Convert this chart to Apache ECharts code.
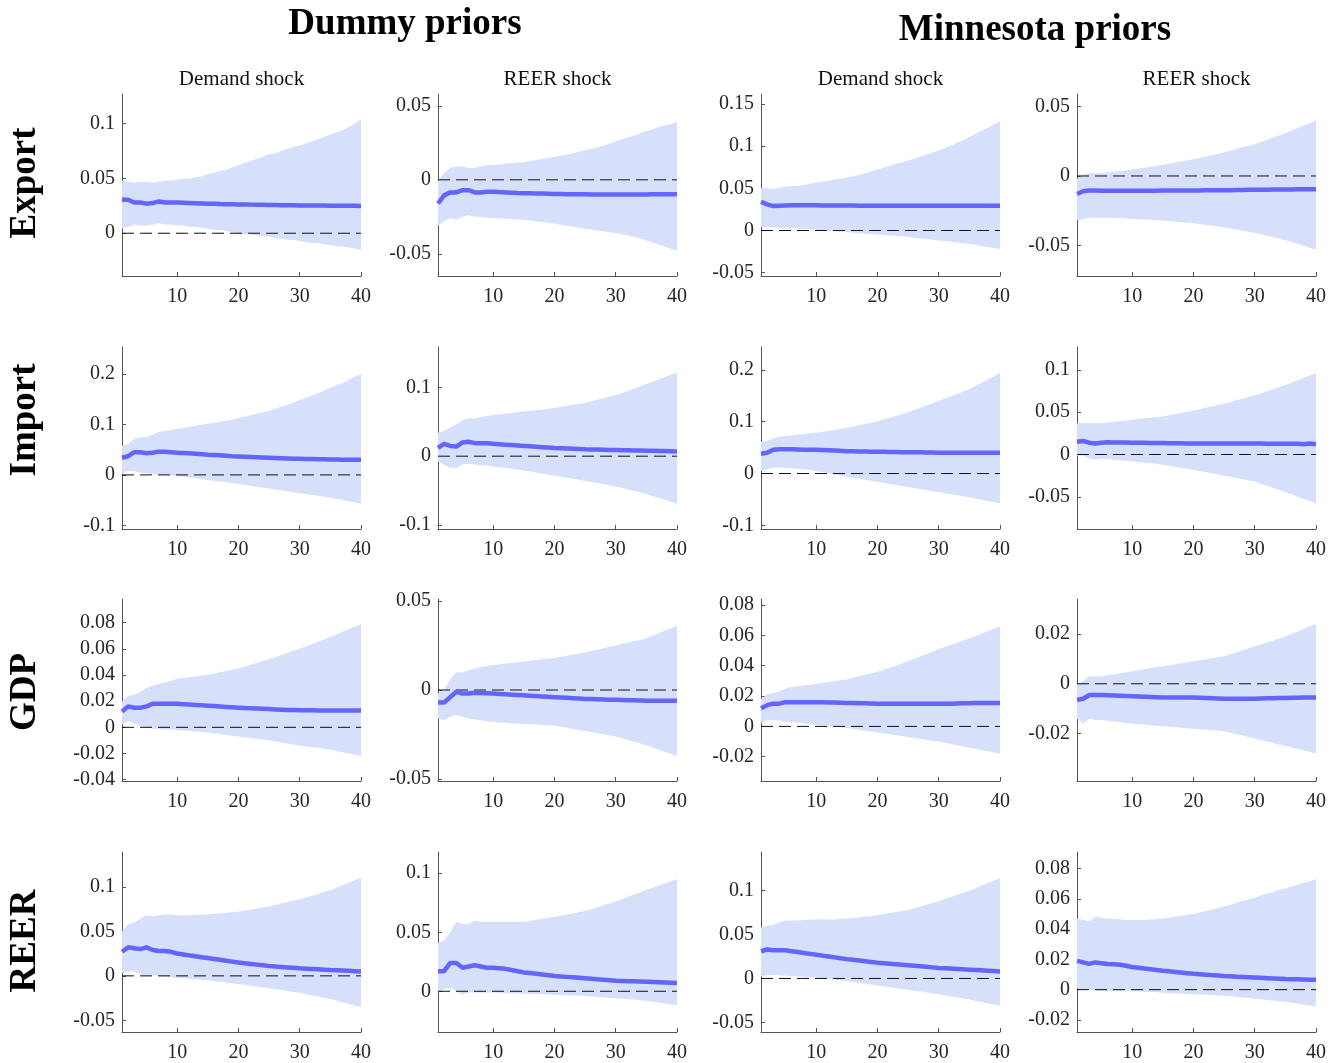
<!DOCTYPE html>
<html>
<head>
<meta charset="utf-8">
<script src="https://cdn.jsdelivr.net/npm/echarts@6/dist/echarts.min.js"></script>
<style>
  html, body { margin: 0; padding: 0; background: #ffffff; }
  #chart { width: 1339px; height: 1063px; }
</style>
</head>
<body>
<div id="chart"></div>
<script>
// Forecast horizons (quarters)
const horizons = [1,2,3,4,5,6,7,8,9,10,11,12,13,14,15,16,17,18,19,20,21,22,23,24,25,26,27,28,29,30,31,32,33,34,35,36,37,38,39,40];
const horizonTicks = [10, 20, 30, 40];

// ---- Export ----
const exportDummyDemandLo = [0.004,0.006,0.008,0.007,0.007,0.008,0.009,0.008,0.008,0.007,0.007,0.006,0.006,0.005,0.004,0.003,0.003,0.002,0.001,0.000,-0.001,-0.001,-0.002,-0.003,-0.003,-0.004,-0.005,-0.006,-0.006,-0.007,-0.008,-0.009,-0.009,-0.010,-0.011,-0.012,-0.012,-0.013,-0.014,-0.015];
const exportDummyDemandMid = [0.0305,0.0305,0.028,0.028,0.027,0.0275,0.029,0.028,0.028,0.028,0.0278,0.0276,0.0274,0.0272,0.027,0.0268,0.0266,0.0265,0.0264,0.0263,0.0262,0.0261,0.026,0.0259,0.0258,0.0257,0.0256,0.0255,0.0255,0.0254,0.0253,0.0253,0.0252,0.0252,0.0251,0.0251,0.025,0.025,0.025,0.0249];
const exportDummyDemandHi = [0.048,0.047,0.046,0.047,0.047,0.046,0.047,0.048,0.048,0.049,0.050,0.050,0.051,0.052,0.054,0.055,0.057,0.058,0.060,0.062,0.064,0.066,0.068,0.070,0.072,0.073,0.075,0.077,0.079,0.080,0.082,0.084,0.086,0.088,0.090,0.092,0.094,0.097,0.100,0.104];
const exportDummyDemandTicks = [0, 0.05, 0.1];

const exportDummyReerLo = [-0.031,-0.028,-0.026,-0.027,-0.025,-0.024,-0.025,-0.025,-0.0255,-0.026,-0.026,-0.0263,-0.0265,-0.0268,-0.027,-0.0275,-0.028,-0.0285,-0.029,-0.0297,-0.0303,-0.031,-0.0316,-0.0323,-0.033,-0.0336,-0.0342,-0.0348,-0.0354,-0.036,-0.0368,-0.0377,-0.0386,-0.0396,-0.041,-0.0423,-0.0437,-0.045,-0.0465,-0.048];
const exportDummyReerMid = [-0.016,-0.0105,-0.0085,-0.0085,-0.007,-0.007,-0.0085,-0.0085,-0.008,-0.008,-0.0083,-0.0085,-0.0087,-0.0089,-0.009,-0.0091,-0.0092,-0.0093,-0.0094,-0.0095,-0.0096,-0.0097,-0.0097,-0.0098,-0.0098,-0.0099,-0.0099,-0.01,-0.01,-0.01,-0.01,-0.0099,-0.01,-0.0099,-0.0099,-0.0098,-0.0098,-0.0098,-0.0098,-0.0098];
const exportDummyReerHi = [-0.001,0.005,0.008,0.009,0.009,0.008,0.008,0.009,0.010,0.010,0.0105,0.011,0.0112,0.0115,0.012,0.0127,0.0134,0.014,0.0147,0.0155,0.0163,0.0171,0.018,0.019,0.020,0.021,0.022,0.023,0.0245,0.026,0.0273,0.0287,0.030,0.0315,0.033,0.0342,0.0355,0.0367,0.0378,0.039];
const exportDummyReerTicks = [-0.05, 0, 0.05];

const exportMinnDemandLo = [0.004,0.004,0.004,0.0035,0.003,0.0027,0.0023,0.002,0.0015,0.001,0.0004,-0.0002,-0.0008,-0.0014,-0.002,-0.0026,-0.0032,-0.0038,-0.0043,-0.0048,-0.0054,-0.006,-0.0066,-0.0072,-0.0078,-0.0086,-0.0094,-0.0102,-0.011,-0.0118,-0.0126,-0.0134,-0.0142,-0.015,-0.016,-0.017,-0.0183,-0.0196,-0.0208,-0.022];
const exportMinnDemandMid = [0.034,0.031,0.029,0.0295,0.0298,0.030,0.030,0.030,0.030,0.030,0.0298,0.0298,0.0297,0.0297,0.0296,0.0296,0.0295,0.0295,0.0295,0.0295,0.0294,0.0294,0.0294,0.0294,0.0294,0.0294,0.0294,0.0294,0.0294,0.0294,0.0294,0.0294,0.0294,0.0295,0.0294,0.0294,0.0293,0.0293,0.0294,0.0295];
const exportMinnDemandHi = [0.051,0.050,0.049,0.051,0.052,0.0525,0.053,0.054,0.0555,0.057,0.058,0.059,0.0605,0.0617,0.063,0.0645,0.066,0.068,0.070,0.0725,0.0745,0.0767,0.079,0.081,0.083,0.0853,0.0877,0.090,0.0925,0.095,0.098,0.101,0.104,0.1075,0.111,0.1147,0.1185,0.122,0.126,0.130];
const exportMinnDemandTicks = [-0.05, 0, 0.05, 0.1, 0.15];

const exportMinnReerLo = [-0.032,-0.031,-0.030,-0.030,-0.030,-0.030,-0.030,-0.0303,-0.0306,-0.031,-0.0312,-0.0314,-0.0316,-0.0318,-0.032,-0.0324,-0.0328,-0.0332,-0.0336,-0.034,-0.0346,-0.0352,-0.0358,-0.0364,-0.037,-0.0378,-0.0386,-0.0394,-0.0402,-0.041,-0.042,-0.043,-0.044,-0.045,-0.046,-0.0474,-0.0488,-0.0502,-0.0516,-0.053];
const exportMinnReerMid = [-0.013,-0.011,-0.0105,-0.0105,-0.0106,-0.0106,-0.0106,-0.0106,-0.0106,-0.0106,-0.0106,-0.0106,-0.0106,-0.0106,-0.0105,-0.0105,-0.0105,-0.0105,-0.0105,-0.0104,-0.0104,-0.0103,-0.0103,-0.0102,-0.0102,-0.0102,-0.0101,-0.0101,-0.0100,-0.0100,-0.0099,-0.0099,-0.0098,-0.0098,-0.0097,-0.0097,-0.0096,-0.0096,-0.0095,-0.0095];
const exportMinnReerHi = [-0.002,0.001,0.002,0.002,0.002,0.0025,0.003,0.0035,0.004,0.0048,0.0053,0.006,0.0066,0.0073,0.008,0.0088,0.0096,0.0104,0.0112,0.012,0.013,0.014,0.015,0.016,0.017,0.0182,0.0194,0.0206,0.0218,0.023,0.0245,0.026,0.0276,0.0292,0.031,0.0328,0.0346,0.0364,0.0382,0.040];
const exportMinnReerTicks = [-0.05, 0, 0.05];

// ---- Import ----
const importDummyDemandLo = [0.002,0.008,0.007,0.005,0.003,0.002,0.001,0.000,-0.001,-0.002,-0.0035,-0.005,-0.0065,-0.008,-0.010,-0.0115,-0.013,-0.0145,-0.016,-0.018,-0.020,-0.0218,-0.0235,-0.0253,-0.027,-0.0288,-0.0306,-0.0324,-0.0342,-0.036,-0.0378,-0.0396,-0.0414,-0.0432,-0.045,-0.0474,-0.0498,-0.0522,-0.0546,-0.057];
const importDummyDemandMid = [0.034,0.037,0.045,0.045,0.043,0.044,0.046,0.046,0.045,0.044,0.0435,0.043,0.042,0.041,0.040,0.0395,0.039,0.038,0.037,0.0365,0.036,0.0355,0.035,0.0345,0.034,0.0335,0.033,0.0325,0.032,0.032,0.0315,0.0315,0.031,0.031,0.0305,0.0305,0.030,0.030,0.030,0.030];
const importDummyDemandHi = [0.058,0.060,0.072,0.074,0.075,0.080,0.085,0.087,0.089,0.091,0.093,0.095,0.097,0.099,0.101,0.103,0.105,0.107,0.109,0.112,0.115,0.118,0.121,0.124,0.127,0.131,0.135,0.139,0.143,0.148,0.152,0.157,0.162,0.167,0.172,0.177,0.182,0.188,0.194,0.200];
const importDummyDemandTicks = [-0.1, 0, 0.1, 0.2];

const importDummyReerLo = [-0.008,-0.012,-0.017,-0.017,-0.012,-0.011,-0.012,-0.013,-0.014,-0.015,-0.016,-0.017,-0.0185,-0.0197,-0.021,-0.0224,-0.0238,-0.0252,-0.0266,-0.028,-0.0296,-0.0312,-0.0328,-0.0344,-0.036,-0.0376,-0.0392,-0.0408,-0.0424,-0.044,-0.0462,-0.0484,-0.0506,-0.0528,-0.055,-0.0578,-0.0606,-0.0634,-0.0662,-0.069];
const importDummyReerMid = [0.012,0.018,0.015,0.014,0.020,0.021,0.019,0.019,0.019,0.018,0.0174,0.0168,0.0162,0.0156,0.015,0.0144,0.0138,0.0132,0.0126,0.012,0.0116,0.0112,0.0108,0.0104,0.010,0.0098,0.0096,0.0094,0.0092,0.009,0.0088,0.0086,0.0084,0.0082,0.008,0.0078,0.0076,0.0074,0.0072,0.007];
const importDummyReerHi = [0.034,0.037,0.042,0.046,0.052,0.055,0.055,0.057,0.0585,0.060,0.061,0.062,0.063,0.064,0.065,0.066,0.067,0.068,0.069,0.070,0.0716,0.0732,0.0748,0.0764,0.078,0.080,0.0822,0.0844,0.0866,0.089,0.092,0.095,0.0985,0.1017,0.105,0.1084,0.1118,0.1152,0.1186,0.122];
const importDummyReerTicks = [-0.1, 0, 0.1];

const importMinnDemandLo = [0.005,0.008,0.011,0.012,0.011,0.010,0.009,0.008,0.0065,0.005,0.003,0.0005,-0.0015,-0.004,-0.006,-0.008,-0.010,-0.012,-0.014,-0.016,-0.018,-0.020,-0.022,-0.024,-0.026,-0.028,-0.030,-0.032,-0.034,-0.036,-0.038,-0.040,-0.042,-0.044,-0.046,-0.0484,-0.0508,-0.0532,-0.0556,-0.058];
const importMinnDemandMid = [0.038,0.040,0.046,0.047,0.047,0.047,0.0465,0.046,0.046,0.046,0.0455,0.045,0.0445,0.0437,0.043,0.0428,0.0425,0.0423,0.042,0.042,0.0418,0.0416,0.0414,0.0412,0.041,0.041,0.0408,0.0406,0.0404,0.040,0.040,0.040,0.040,0.040,0.040,0.040,0.040,0.040,0.040,0.040];
const importMinnDemandHi = [0.062,0.062,0.068,0.071,0.073,0.074,0.075,0.076,0.0775,0.079,0.0805,0.082,0.084,0.086,0.088,0.0905,0.093,0.0955,0.098,0.101,0.1043,0.1077,0.111,0.1145,0.118,0.1224,0.1268,0.1312,0.1356,0.140,0.1446,0.1492,0.1538,0.1584,0.163,0.169,0.175,0.181,0.187,0.194];
const importMinnDemandTicks = [-0.1, 0, 0.1, 0.2];

const importMinnReerLo = [-0.002,-0.001,-0.005,-0.006,-0.005,-0.0056,-0.0062,-0.0068,-0.0074,-0.008,-0.0088,-0.0096,-0.0104,-0.0112,-0.012,-0.0132,-0.0144,-0.0156,-0.0168,-0.018,-0.0194,-0.0208,-0.0222,-0.0236,-0.025,-0.0264,-0.0278,-0.0292,-0.0306,-0.032,-0.0345,-0.037,-0.0395,-0.042,-0.0445,-0.047,-0.050,-0.0525,-0.055,-0.058];
const importMinnReerMid = [0.015,0.016,0.014,0.013,0.014,0.0145,0.0143,0.0142,0.0141,0.014,0.0139,0.0138,0.0137,0.0136,0.0135,0.0134,0.0133,0.0132,0.0131,0.013,0.013,0.013,0.013,0.013,0.013,0.013,0.013,0.013,0.013,0.013,0.0129,0.0128,0.0128,0.0127,0.0127,0.0126,0.0126,0.012,0.013,0.012];
const importMinnReerHi = [0.037,0.037,0.037,0.037,0.037,0.0378,0.0386,0.0394,0.0402,0.041,0.0418,0.0426,0.0434,0.0442,0.045,0.0464,0.0478,0.0492,0.0506,0.052,0.0536,0.0552,0.0568,0.0584,0.060,0.062,0.064,0.066,0.068,0.070,0.0724,0.0748,0.0772,0.0796,0.082,0.0848,0.0876,0.0904,0.0932,0.096];
const importMinnReerTicks = [-0.05, 0, 0.05, 0.1];

// ---- GDP ----
const gdpDummyDemandLo = [0.002,0.005,0.003,0.001,0.000,-0.001,-0.0012,-0.0015,-0.0017,-0.002,-0.0024,-0.0028,-0.0032,-0.0036,-0.004,-0.0046,-0.0052,-0.0058,-0.0064,-0.007,-0.0076,-0.0082,-0.0088,-0.0094,-0.010,-0.0108,-0.0116,-0.0124,-0.0132,-0.014,-0.0146,-0.0152,-0.0158,-0.0164,-0.017,-0.018,-0.019,-0.020,-0.021,-0.022];
const gdpDummyDemandMid = [0.012,0.016,0.015,0.015,0.016,0.018,0.018,0.018,0.018,0.018,0.0177,0.0174,0.0171,0.0168,0.0165,0.0162,0.0159,0.0156,0.0153,0.015,0.0147,0.0145,0.0143,0.0141,0.0139,0.0137,0.0135,0.0133,0.0132,0.0131,0.013,0.013,0.0129,0.0129,0.0129,0.0129,0.0129,0.0129,0.0128,0.0128];
const gdpDummyDemandHi = [0.020,0.024,0.025,0.027,0.030,0.032,0.033,0.034,0.0355,0.037,0.0376,0.0382,0.0388,0.0394,0.040,0.041,0.042,0.043,0.044,0.045,0.0464,0.0478,0.0492,0.0506,0.052,0.0536,0.0552,0.0568,0.0584,0.060,0.0618,0.0636,0.0654,0.0672,0.069,0.071,0.073,0.075,0.077,0.079];
const gdpDummyDemandTicks = [-0.04, -0.02, 0, 0.02, 0.04, 0.06, 0.08];

const gdpDummyReerLo = [-0.016,-0.017,-0.015,-0.014,-0.015,-0.016,-0.0165,-0.017,-0.0175,-0.018,-0.0182,-0.0184,-0.0186,-0.0188,-0.019,-0.0192,-0.0194,-0.0196,-0.0198,-0.020,-0.0206,-0.0212,-0.0218,-0.0224,-0.023,-0.0236,-0.0242,-0.0248,-0.0254,-0.026,-0.027,-0.028,-0.029,-0.030,-0.031,-0.0322,-0.0334,-0.0346,-0.0358,-0.037];
const gdpDummyReerMid = [-0.007,-0.007,-0.004,-0.001,-0.002,-0.002,-0.0015,-0.0017,-0.0018,-0.002,-0.0022,-0.0024,-0.0026,-0.0028,-0.003,-0.0032,-0.0034,-0.0036,-0.0038,-0.004,-0.0042,-0.0044,-0.0046,-0.0048,-0.005,-0.0051,-0.0052,-0.0053,-0.0054,-0.0055,-0.0056,-0.0057,-0.0058,-0.0059,-0.006,-0.006,-0.006,-0.006,-0.006,-0.006];
const gdpDummyReerHi = [-0.002,0.000,0.006,0.010,0.010,0.011,0.012,0.013,0.0135,0.014,0.0144,0.0148,0.0152,0.0156,0.016,0.0164,0.0168,0.0172,0.0176,0.018,0.0186,0.0192,0.0198,0.0204,0.021,0.0218,0.0226,0.0234,0.0242,0.025,0.0258,0.0266,0.0274,0.0282,0.029,0.0304,0.0318,0.0332,0.0346,0.036];
const gdpDummyReerTicks = [-0.05, 0, 0.05];

const gdpMinnDemandLo = [0.002,0.004,0.004,0.004,0.003,0.003,0.0025,0.002,0.0015,0.001,0.0006,0.0002,-0.0002,-0.0006,-0.001,-0.0016,-0.0022,-0.0028,-0.0034,-0.004,-0.0046,-0.0052,-0.0058,-0.0064,-0.007,-0.0076,-0.0082,-0.0088,-0.0094,-0.010,-0.0108,-0.0116,-0.0124,-0.0132,-0.014,-0.0148,-0.0156,-0.0164,-0.0172,-0.018];
const gdpMinnDemandMid = [0.012,0.014,0.015,0.015,0.016,0.016,0.016,0.016,0.016,0.016,0.0159,0.0158,0.0157,0.0156,0.0155,0.0154,0.0153,0.0152,0.0151,0.015,0.015,0.015,0.015,0.015,0.015,0.015,0.015,0.015,0.015,0.015,0.015,0.015,0.0151,0.0152,0.0153,0.0154,0.0155,0.0155,0.0155,0.0155];
const gdpMinnDemandHi = [0.018,0.021,0.022,0.023,0.025,0.026,0.0265,0.027,0.0275,0.028,0.0286,0.0292,0.0298,0.0304,0.031,0.032,0.033,0.034,0.035,0.036,0.0373,0.0386,0.040,0.0415,0.043,0.0446,0.0462,0.0478,0.0494,0.051,0.0524,0.0538,0.0552,0.0566,0.058,0.0596,0.0612,0.0628,0.0644,0.066];
const gdpMinnDemandTicks = [-0.02, 0, 0.02, 0.04, 0.06, 0.08];

const gdpMinnReerLo = [-0.014,-0.016,-0.014,-0.0145,-0.0145,-0.0148,-0.0151,-0.0154,-0.0157,-0.016,-0.0162,-0.0164,-0.0166,-0.0168,-0.017,-0.0172,-0.0174,-0.0176,-0.0178,-0.018,-0.0182,-0.0184,-0.0186,-0.0188,-0.019,-0.0196,-0.0202,-0.0208,-0.0214,-0.022,-0.0226,-0.0232,-0.0238,-0.0244,-0.025,-0.0256,-0.0262,-0.0268,-0.0274,-0.028];
const gdpMinnReerMid = [-0.0065,-0.006,-0.0045,-0.0045,-0.0045,-0.0046,-0.0047,-0.0048,-0.0049,-0.005,-0.0051,-0.0052,-0.0053,-0.0054,-0.0055,-0.0055,-0.0055,-0.0055,-0.0055,-0.0055,-0.0056,-0.0057,-0.0058,-0.0059,-0.006,-0.006,-0.006,-0.006,-0.006,-0.006,-0.0059,-0.0058,-0.0058,-0.0057,-0.0057,-0.0056,-0.0056,-0.0055,-0.0055,-0.0055];
const gdpMinnReerHi = [-0.0003,0.001,0.003,0.003,0.003,0.0034,0.0038,0.0042,0.0046,0.005,0.0054,0.0058,0.0062,0.0066,0.007,0.0074,0.0078,0.0082,0.0086,0.009,0.0094,0.0098,0.0102,0.0106,0.011,0.0118,0.0126,0.0134,0.0142,0.015,0.0158,0.0166,0.0174,0.0182,0.019,0.020,0.021,0.022,0.023,0.024];
const gdpMinnReerTicks = [-0.02, 0, 0.02];

// ---- REER ----
const reerDummyDemandLo = [0.003,0.005,0.005,0.002,-0.001,0.001,0.000,-0.001,-0.0015,-0.002,-0.0026,-0.0032,-0.0038,-0.0044,-0.005,-0.0058,-0.0066,-0.0074,-0.0082,-0.009,-0.010,-0.011,-0.012,-0.013,-0.014,-0.015,-0.016,-0.017,-0.018,-0.019,-0.0204,-0.0218,-0.0232,-0.0246,-0.026,-0.0278,-0.0296,-0.0314,-0.0332,-0.035];
const reerDummyDemandMid = [0.027,0.032,0.031,0.030,0.032,0.029,0.028,0.028,0.027,0.025,0.024,0.023,0.022,0.021,0.020,0.019,0.018,0.017,0.016,0.015,0.0142,0.0134,0.0126,0.0118,0.011,0.0105,0.010,0.0095,0.009,0.0085,0.0081,0.0077,0.0073,0.0069,0.0065,0.0062,0.0059,0.0056,0.0053,0.005];
const reerDummyDemandHi = [0.050,0.058,0.060,0.064,0.068,0.067,0.068,0.069,0.0685,0.068,0.068,0.068,0.0685,0.0688,0.069,0.0696,0.0702,0.0708,0.0714,0.072,0.0732,0.0744,0.0756,0.0768,0.078,0.0796,0.0812,0.0828,0.0844,0.086,0.088,0.090,0.092,0.094,0.096,0.0988,0.1016,0.1044,0.1072,0.110];
const reerDummyDemandTicks = [-0.05, 0, 0.05, 0.1];

const reerDummyReerLo = [-0.001,0.002,0.003,0.000,-0.003,-0.001,-0.001,-0.001,-0.001,-0.001,-0.0012,-0.0014,-0.0016,-0.0018,-0.002,-0.0022,-0.0024,-0.0026,-0.0028,-0.003,-0.0032,-0.0034,-0.0036,-0.0038,-0.004,-0.0044,-0.0048,-0.0052,-0.0056,-0.006,-0.0064,-0.0068,-0.0072,-0.0076,-0.008,-0.0088,-0.0096,-0.0104,-0.0112,-0.012];
const reerDummyReerMid = [0.017,0.017,0.024,0.024,0.020,0.021,0.022,0.021,0.020,0.020,0.0195,0.019,0.018,0.017,0.016,0.0154,0.0148,0.0142,0.0136,0.013,0.0126,0.0122,0.0118,0.0114,0.011,0.0106,0.0102,0.0098,0.0094,0.009,0.0088,0.0086,0.0084,0.0082,0.008,0.0078,0.0076,0.0074,0.0072,0.007];
const reerDummyReerHi = [0.041,0.043,0.050,0.059,0.057,0.057,0.060,0.059,0.059,0.059,0.059,0.059,0.059,0.059,0.059,0.0598,0.0606,0.0614,0.0622,0.063,0.064,0.065,0.066,0.067,0.068,0.0696,0.0712,0.0728,0.0744,0.076,0.078,0.080,0.082,0.084,0.086,0.0878,0.0896,0.0914,0.0932,0.095];
const reerDummyReerTicks = [0, 0.05, 0.1];

const reerMinnDemandLo = [0.002,0.004,0.004,0.0035,0.003,0.0026,0.0022,0.0018,0.0014,0.001,0.0002,-0.0006,-0.0014,-0.0022,-0.003,-0.004,-0.005,-0.006,-0.007,-0.008,-0.009,-0.010,-0.011,-0.012,-0.013,-0.014,-0.015,-0.016,-0.017,-0.018,-0.0192,-0.0204,-0.0216,-0.0228,-0.024,-0.0254,-0.0268,-0.0282,-0.0296,-0.031];
const reerMinnDemandMid = [0.031,0.033,0.032,0.032,0.032,0.031,0.030,0.029,0.028,0.027,0.026,0.025,0.024,0.023,0.022,0.0212,0.0204,0.0196,0.0188,0.018,0.0174,0.0168,0.0162,0.0156,0.015,0.0144,0.0138,0.0132,0.0126,0.012,0.0116,0.0112,0.0108,0.0104,0.010,0.0096,0.0092,0.0088,0.0084,0.008];
const reerMinnDemandHi = [0.058,0.060,0.061,0.064,0.066,0.066,0.066,0.0665,0.0668,0.067,0.067,0.067,0.0672,0.0676,0.068,0.0688,0.0696,0.0704,0.0712,0.072,0.0732,0.0744,0.0756,0.0768,0.078,0.080,0.082,0.084,0.086,0.088,0.0904,0.0928,0.0952,0.0976,0.100,0.1028,0.1056,0.1084,0.1112,0.114];
const reerMinnDemandTicks = [-0.05, 0, 0.05, 0.1];

const reerMinnReerLo = [0.001,0.000,0.000,-0.0005,-0.001,-0.001,-0.001,-0.001,-0.001,-0.001,-0.0012,-0.0014,-0.0016,-0.0018,-0.002,-0.0022,-0.0024,-0.0026,-0.0028,-0.003,-0.0032,-0.0034,-0.0036,-0.0038,-0.004,-0.0044,-0.0048,-0.0052,-0.0056,-0.006,-0.0064,-0.0068,-0.0072,-0.0076,-0.008,-0.0086,-0.0092,-0.0098,-0.0104,-0.011];
const reerMinnReerMid = [0.019,0.018,0.017,0.018,0.0175,0.017,0.0168,0.0165,0.0158,0.015,0.0145,0.014,0.0135,0.013,0.0125,0.0121,0.0117,0.0113,0.0109,0.0105,0.0102,0.0099,0.0096,0.0093,0.009,0.0088,0.0086,0.0084,0.0082,0.008,0.0078,0.0076,0.0074,0.0072,0.007,0.0069,0.0068,0.0067,0.0066,0.0065];
const reerMinnReerHi = [0.047,0.046,0.045,0.048,0.0475,0.047,0.0467,0.0465,0.046,0.046,0.046,0.046,0.0463,0.0466,0.047,0.0476,0.0482,0.0488,0.0494,0.050,0.051,0.052,0.053,0.054,0.055,0.0562,0.0574,0.0586,0.0598,0.061,0.0622,0.0634,0.0646,0.0658,0.067,0.0682,0.0694,0.0706,0.0718,0.073];
const reerMinnReerTicks = [-0.02, 0, 0.02, 0.04, 0.06, 0.08];

// Text
const priorTitles = ['Dummy priors', 'Minnesota priors'];
const shockTitles = ['Demand shock', 'REER shock', 'Demand shock', 'REER shock'];
const variableNames = ['Export', 'Import', 'GDP', 'REER'];

// Panels row by row: y-axis limits and band/median arrays
const panels = [
  { lo: exportDummyDemandLo, mid: exportDummyDemandMid, hi: exportDummyDemandHi, yMin: -0.039, yMax: 0.127, ticks: exportDummyDemandTicks },
  { lo: exportDummyReerLo,   mid: exportDummyReerMid,   hi: exportDummyReerHi,   yMin: -0.065, yMax: 0.058, ticks: exportDummyReerTicks },
  { lo: exportMinnDemandLo,  mid: exportMinnDemandMid,  hi: exportMinnDemandHi,  yMin: -0.054, yMax: 0.162, ticks: exportMinnDemandTicks },
  { lo: exportMinnReerLo,    mid: exportMinnReerMid,    hi: exportMinnReerHi,    yMin: -0.072, yMax: 0.059, ticks: exportMinnReerTicks },
  { lo: importDummyDemandLo, mid: importDummyDemandMid, hi: importDummyDemandHi, yMin: -0.107, yMax: 0.253, ticks: importDummyDemandTicks },
  { lo: importDummyReerLo,   mid: importDummyReerMid,   hi: importDummyReerHi,   yMin: -0.106, yMax: 0.159, ticks: importDummyReerTicks },
  { lo: importMinnDemandLo,  mid: importMinnDemandMid,  hi: importMinnDemandHi,  yMin: -0.107, yMax: 0.244, ticks: importMinnDemandTicks },
  { lo: importMinnReerLo,    mid: importMinnReerMid,    hi: importMinnReerHi,    yMin: -0.088, yMax: 0.127, ticks: importMinnReerTicks },
  { lo: gdpDummyDemandLo,    mid: gdpDummyDemandMid,    hi: gdpDummyDemandHi,    yMin: -0.041, yMax: 0.098, ticks: gdpDummyDemandTicks },
  { lo: gdpDummyReerLo,      mid: gdpDummyReerMid,      hi: gdpDummyReerHi,      yMin: -0.051, yMax: 0.051, ticks: gdpDummyReerTicks },
  { lo: gdpMinnDemandLo,     mid: gdpMinnDemandMid,     hi: gdpMinnDemandHi,     yMin: -0.036, yMax: 0.084, ticks: gdpMinnDemandTicks },
  { lo: gdpMinnReerLo,       mid: gdpMinnReerMid,       hi: gdpMinnReerHi,       yMin: -0.039, yMax: 0.034, ticks: gdpMinnReerTicks },
  { lo: reerDummyDemandLo,   mid: reerDummyDemandMid,   hi: reerDummyDemandHi,   yMin: -0.063, yMax: 0.139, ticks: reerDummyDemandTicks },
  { lo: reerDummyReerLo,     mid: reerDummyReerMid,     hi: reerDummyReerHi,     yMin: -0.0345, yMax: 0.118, ticks: reerDummyReerTicks },
  { lo: reerMinnDemandLo,    mid: reerMinnDemandMid,    hi: reerMinnDemandHi,    yMin: -0.061, yMax: 0.144, ticks: reerMinnDemandTicks },
  { lo: reerMinnReerLo,      mid: reerMinnReerMid,      hi: reerMinnReerHi,      yMin: -0.028, yMax: 0.091, ticks: reerMinnReerTicks }
];

// Layout of the 4x4 grid of axes
const colLeft = [122, 438, 761, 1077];
const colWidth = 239;
const rowTop = [94, 347, 599, 852];
const rowHeight = 182;

const serif = '"Liberation Serif", "Times New Roman", serif';
const axisColor = '#555555';
const tickTextColor = '#262626';
const bandColor = '#d6e0fb';
const lineColor = '#6464ff';

const fmt = v => String(+(+v).toFixed(4));

const grids = [], xAxes = [], yAxes = [], series = [];

panels.forEach((p, k) => {
  const r = Math.floor(k / 4), c = k % 4;
  grids.push({ left: colLeft[c], top: rowTop[r], width: colWidth, height: rowHeight, containLabel: false });

  xAxes.push({
    gridIndex: k, type: 'value', min: 1, max: 40,
    axisLine: { show: true, onZero: false, lineStyle: { color: axisColor, width: 1 } },
    axisTick: { show: true, inside: true, length: 4, customValues: horizonTicks, lineStyle: { color: axisColor } },
    axisLabel: { show: true, customValues: horizonTicks, margin: 11, color: tickTextColor,
                 fontFamily: serif, fontSize: 20, formatter: fmt },
    splitLine: { show: false }
  });

  yAxes.push({
    gridIndex: k, type: 'value', min: p.yMin, max: p.yMax,
    axisLine: { show: true, onZero: false, lineStyle: { color: axisColor, width: 1 } },
    axisTick: { show: true, inside: true, length: 4, customValues: p.ticks, lineStyle: { color: axisColor } },
    axisLabel: { show: true, customValues: p.ticks, margin: 7, color: tickTextColor,
                 fontFamily: serif, fontSize: 20, formatter: fmt },
    splitLine: { show: false }
  });

  // credible band: one polygon through upper bound then lower bound reversed
  series.push({
    type: 'custom', xAxisIndex: k, yAxisIndex: k, z: 1, silent: true,
    data: horizons.map((h, i) => [h, p.lo[i], p.hi[i]]),
    encode: { x: 0, y: [1, 2] },
    renderItem: (params, api) => {
      if (params.dataIndex !== 0) return null;
      const pts = [];
      horizons.forEach((h, i) => pts.push(api.coord([h, p.hi[i]])));
      for (let i = horizons.length - 1; i >= 0; i--) pts.push(api.coord([horizons[i], p.lo[i]]));
      return { type: 'polygon', shape: { points: pts }, style: { fill: bandColor } };
    }
  });

  // zero reference line
  series.push({
    type: 'line', xAxisIndex: k, yAxisIndex: k, z: 2, silent: true,
    data: [[1, 0], [40, 0]], symbol: 'none',
    lineStyle: { color: '#111111', width: 1, type: [12, 6] }
  });

  // median response
  series.push({
    type: 'line', xAxisIndex: k, yAxisIndex: k, z: 3, silent: true,
    data: horizons.map((h, i) => [h, p.mid[i]]), symbol: 'none',
    lineStyle: { color: lineColor, width: 4.5 }
  });
});

const graphics = [];
// group headers
graphics.push({ type: 'text', x: 405, y: 24, style: { text: priorTitles[0], fontFamily: serif, fontSize: 37, fontWeight: 'bold', fill: '#000', align: 'center', verticalAlign: 'middle' } });
graphics.push({ type: 'text', x: 1035, y: 30, style: { text: priorTitles[1], fontFamily: serif, fontSize: 37, fontWeight: 'bold', fill: '#000', align: 'center', verticalAlign: 'middle' } });
// shock headers over the first row
shockTitles.forEach((t, c) => {
  graphics.push({ type: 'text', x: colLeft[c] + colWidth / 2, y: 79, style: { text: t, fontFamily: serif, fontSize: 21, fill: '#111', align: 'center', verticalAlign: 'middle' } });
});
// variable labels, rotated
const rowLabelY = [183, 420, 692, 941];
variableNames.forEach((t, r) => {
  graphics.push({ type: 'text', x: 25, y: rowLabelY[r], rotation: Math.PI / 2,
    style: { text: t, fontFamily: serif, fontSize: 37, fontWeight: 'bold', fill: '#000', align: 'center', verticalAlign: 'middle' } });
});

const chart = echarts.init(document.getElementById('chart'), null, { renderer: 'canvas' });
chart.setOption({
  animation: false,
  backgroundColor: '#ffffff',
  grid: grids,
  xAxis: xAxes,
  yAxis: yAxes,
  series: series,
  graphic: graphics
});
</script>
</body>
</html>
